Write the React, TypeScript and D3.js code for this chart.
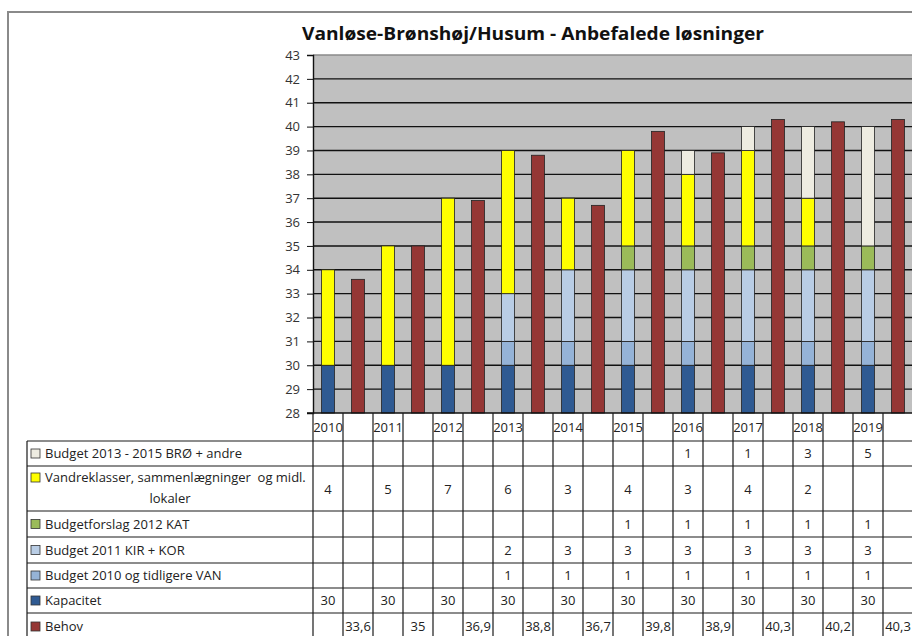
import React, { useRef, useEffect } from "react";
import * as d3 from "d3";

// data (Excel chart with data table)
const years = ["2010", "2011", "2012", "2013", "2014", "2015", "2016", "2017", "2018", "2019"];
const kapacitet = [30, 30, 30, 30, 30, 30, 30, 30, 30, 30];
const budget2010VAN = [null, null, null, 1, 1, 1, 1, 1, 1, 1];
const budget2011KIRKOR = [null, null, null, 2, 3, 3, 3, 3, 3, 3];
const budgetforslag2012KAT = [null, null, null, null, null, 1, 1, 1, 1, 1];
const vandreklasser = [4, 5, 7, 6, 3, 4, 3, 4, 2, null];
const budget2013BRO = [null, null, null, null, null, null, 1, 1, 3, 5];
const behov = [33.6, 35, 36.9, 38.8, 36.7, 39.8, 38.9, 40.3, 40.2, 40.3];
const yTicks = [28, 29, 30, 31, 32, 33, 34, 35, 36, 37, 38, 39, 40, 41, 42, 43];

// stack order, bottom to top
const stackSeries = [
  { key: "Kapacitet", values: kapacitet, color: "#2f5a92" },
  { key: "Budget 2010 og tidligere VAN", values: budget2010VAN, color: "#95b3d7" },
  { key: "Budget 2011 KIR + KOR", values: budget2011KIRKOR, color: "#b9cde5" },
  { key: "Budgetforslag 2012 KAT", values: budgetforslag2012KAT, color: "#9bbb59" },
  { key: "Vandreklasser, sammenlægninger  og midl. lokaler", values: vandreklasser, color: "#ffff00" },
  { key: "Budget 2013 - 2015 BRØ + andre", values: budget2013BRO, color: "#eeece1" },
];
const behovSeries = { key: "Behov", values: behov, color: "#953735" };

const W = 912;
const H = 636;
const FONT = "'Open Sans', Calibri, sans-serif";

export default function App() {
  const ref = useRef<SVGSVGElement>(null);

  useEffect(() => {
    const svg = d3.select(ref.current);
    svg.selectAll("*").remove();

    const plot = { left: 313, right: 913, top: 55, bottom: 413 };
    const tableLeft = 27;

    // 20 columns: year stack, then behov
    const columns = d3.range(years.length * 2);
    const x = d3
      .scaleBand<number>()
      .domain(columns)
      .range([plot.left, plot.right])
      .paddingInner(0.57)
      .paddingOuter(0.285);
    const colLeft = (i: number) => plot.left + i * x.step();

    const y = d3.scaleLinear().domain([28, 43]).range([plot.bottom, plot.top]);
    const fmt = d3.formatLocale({ decimal: ",", thousands: ".", grouping: [3], currency: ["", " kr"] }).format("~g");

    // frame
    svg.append("path").attr("d", `M8,${H} V12 H${W}`).attr("fill", "none").attr("stroke", "#8a8a8a").attr("stroke-width", 2);

    // title
    svg
      .append("text")
      .attr("x", 533)
      .attr("y", 40)
      .attr("text-anchor", "middle")
      .attr("font-family", FONT)
      .attr("font-weight", 700)
      .attr("font-size", "18px")
      .attr("textLength", 462)
      .attr("lengthAdjust", "spacingAndGlyphs")
      .attr("fill", "#111")
      .text("Vanløse-Brønshøj/Husum - Anbefalede løsninger");

    // plot background + grid
    svg.append("rect").attr("x", plot.left).attr("y", plot.top).attr("width", plot.right - plot.left).attr("height", plot.bottom - plot.top).attr("fill", "#c0c0c0");
    svg
      .append("g")
      .selectAll("line")
      .data(yTicks.slice(1, -1))
      .join("line")
      .attr("x1", plot.left)
      .attr("x2", plot.right)
      .attr("y1", (d) => y(d))
      .attr("y2", (d) => y(d))
      .attr("stroke", "#111")
      .attr("stroke-width", 1.4);
    svg.append("line").attr("x1", plot.left).attr("x2", plot.right).attr("y1", plot.top).attr("y2", plot.top).attr("stroke", "#8a8a8a").attr("stroke-width", 1.5);

    // stacked bars
    const rows = years.map((yr, i) => {
      const r: any = { year: yr, i };
      stackSeries.forEach((s) => (r[s.key] = s.values[i] ?? 0));
      return r;
    });
    const stacked = d3.stack<any>().keys(stackSeries.map((s) => s.key))(rows);
    const bars = svg.append("g");
    stacked.forEach((layer, li) => {
      bars
        .append("g")
        .selectAll("rect")
        .data(layer.filter((d) => d[1] - d[0] > 0))
        .join("rect")
        .attr("x", (d) => x(d.data.i * 2)!)
        .attr("width", x.bandwidth())
        .attr("y", (d) => y(d[1]))
        .attr("height", (d) => y(Math.max(d[0], 28)) - y(d[1]))
        .attr("fill", stackSeries[li].color)
        .attr("stroke", "#222")
        .attr("stroke-width", 0.8);
    });
    bars
      .append("g")
      .selectAll("rect")
      .data(behov)
      .join("rect")
      .attr("x", (_, i) => x(i * 2 + 1)!)
      .attr("width", x.bandwidth())
      .attr("y", (d) => y(d))
      .attr("height", (d) => y(28) - y(d))
      .attr("fill", behovSeries.color)
      .attr("stroke", "#222")
      .attr("stroke-width", 0.8);

    // y axis
    const yAxis = svg
      .append("g")
      .attr("transform", `translate(${plot.left},0)`)
      .call(d3.axisLeft(y).tickValues(yTicks).tickSize(6).tickPadding(7).tickFormat(d3.format("d")));
    yAxis.select(".domain").attr("stroke", "#111").attr("stroke-width", 1.4);
    yAxis.selectAll(".tick line").attr("stroke", "#111");
    yAxis.selectAll("text").attr("font-family", FONT).attr("font-size", "13px").attr("fill", "#333");
    svg.append("line").attr("x1", plot.left - 6).attr("x2", plot.right).attr("y1", plot.bottom).attr("y2", plot.bottom).attr("stroke", "#111").attr("stroke-width", 1.4);

    // data table
    const tableRows = [...stackSeries].reverse().concat([behovSeries]);
    const rowHeights = [25, 45, 26, 26, 25, 25, 27];
    const rowTops = [441];
    rowHeights.forEach((h, i) => rowTops.push(rowTops[i] + h));
    const table = svg.append("g").attr("font-family", FONT).attr("font-size", "13px").attr("fill", "#222");

    // category labels in header row
    table
      .selectAll("text.cat")
      .data(columns)
      .join("text")
      .attr("class", "cat")
      .attr("x", (i) => colLeft(i) + x.step() / 2)
      .attr("y", 432)
      .attr("text-anchor", "middle")
      .text((i) => (i % 2 === 0 ? years[i / 2] : ""));

    // grid lines
    const lineColor = "#1a1a1a";
    rowTops.slice(0, -1).forEach((t) => {
      table.append("line").attr("x1", tableLeft).attr("x2", plot.right).attr("y1", t).attr("y2", t).attr("stroke", lineColor).attr("stroke-width", 1.2);
    });
    table.append("line").attr("x1", tableLeft).attr("x2", tableLeft).attr("y1", rowTops[0]).attr("y2", H).attr("stroke", lineColor).attr("stroke-width", 1.2);
    d3.range(columns.length + 1).forEach((i) => {
      table.append("line").attr("x1", colLeft(i)).attr("x2", colLeft(i)).attr("y1", plot.bottom).attr("y2", H).attr("stroke", lineColor).attr("stroke-width", 1.2);
    });

    tableRows.forEach((s, r) => {
      const top = rowTops[r];
      const h = rowHeights[r];
      const mid = top + h / 2;
      // legend key
      table
        .append("rect")
        .attr("x", 31)
        .attr("y", (s.key.startsWith("Vandre") ? top + 7 : mid - 4.5))
        .attr("width", 9)
        .attr("height", 9)
        .attr("fill", s.color)
        .attr("stroke", "#333")
        .attr("stroke-width", 0.8);
      if (s.key.startsWith("Vandre")) {
        table.append("text").attr("x", 45).attr("y", top + 16).text("Vandreklasser, sammenlægninger  og midl.").style("white-space", "pre");
        table.append("text").attr("x", (tableLeft + plot.left) / 2).attr("y", top + 37).attr("text-anchor", "middle").text("lokaler");
      } else {
        table.append("text").attr("x", 45).attr("y", mid + 4.5).text(s.key);
      }
      // values
      const isBehov = s === behovSeries;
      table
        .append("g")
        .selectAll("text")
        .data(s.values.map((v, i) => ({ v, col: isBehov ? i * 2 + 1 : i * 2 })).filter((d) => d.v != null))
        .join("text")
        .attr("x", (d) => colLeft(d.col) + x.step() / 2)
        .attr("y", (d) => (s.key.startsWith("Vandre") ? mid + 5 : mid + 4.5))
        .attr("text-anchor", "middle")
        .text((d) => fmt(d.v as number));
    });
  }, []);

  return <svg ref={ref} width={W} height={H} style={{ position: "absolute", left: 0, top: 0, background: "#fff" }} />;
}
